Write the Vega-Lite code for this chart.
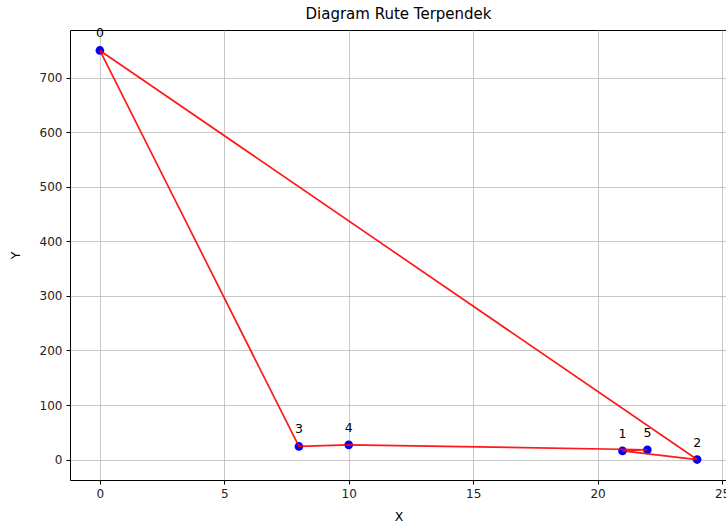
{
  "$schema": "https://vega.github.io/schema/vega-lite/v6.json",
  "autosize": {"type": "none"},
  "padding": {"left": 70, "top": 30, "right": 0, "bottom": 43},
  "width": 657,
  "height": 450,
  "title": {"text": "Diagram Rute Terpendek", "font": "DejaVu Sans", "fontSize": 15, "fontWeight": "normal", "color": "#000000", "offset": 5},
  "config": {
    "view": {"stroke": "#000000", "strokeWidth": 1},
    "axis": {
      "labelFont": "DejaVu Sans", "titleFont": "DejaVu Sans", "labelFontSize": 12, "titleFontSize": 12.5,
      "titleFontWeight": "normal", "labelColor": "#222222", "titleColor": "#000000",
      "gridColor": "#b0b0b0", "gridWidth": 1, "gridOpacity": 0.7,
      "domain": false, "tickColor": "#000000", "tickSize": 4, "labelPadding": 4
    }
  },
  "datasets": {
    "nodes": [
      {"id": "0", "x": 0, "y": 750},
      {"id": "1", "x": 21, "y": 16},
      {"id": "2", "x": 24, "y": 0},
      {"id": "3", "x": 8, "y": 24},
      {"id": "4", "x": 10, "y": 27},
      {"id": "5", "x": 22, "y": 18}
    ],
    "route": [
      {"seq": 0, "x": 0, "y": 750},
      {"seq": 1, "x": 8, "y": 24},
      {"seq": 2, "x": 10, "y": 27},
      {"seq": 3, "x": 22, "y": 18},
      {"seq": 4, "x": 21, "y": 16},
      {"seq": 5, "x": 24, "y": 0},
      {"seq": 6, "x": 0, "y": 750}
    ]
  },
  "encoding": {
    "x": {"field": "x", "type": "quantitative", "scale": {"domain": [-1.2, 25.2], "nice": false, "zero": false},
      "axis": {"values": [0, 5, 10, 15, 20, 25], "title": "X", "titlePadding": 11}},
    "y": {"field": "y", "type": "quantitative", "scale": {"domain": [-37.5, 787.5], "nice": false, "zero": false},
      "axis": {"values": [0, 100, 200, 300, 400, 500, 600, 700], "title": "Y", "titlePadding": 17}}
  },
  "layer": [
    {
      "data": {"name": "nodes"},
      "mark": {"type": "point", "filled": true, "color": "#0000ff", "size": 75, "opacity": 1}
    },
    {
      "data": {"name": "route"},
      "mark": {"type": "line", "color": "#ff0000", "strokeWidth": 1.7, "opacity": 0.9},
      "encoding": {"order": {"field": "seq", "type": "quantitative"}}
    },
    {
      "data": {"name": "nodes"},
      "mark": {"type": "text", "font": "DejaVu Sans", "fontSize": 12.5, "color": "#000000", "dy": -17, "align": "center"},
      "encoding": {"text": {"field": "id", "type": "nominal"}}
    }
  ]
}
